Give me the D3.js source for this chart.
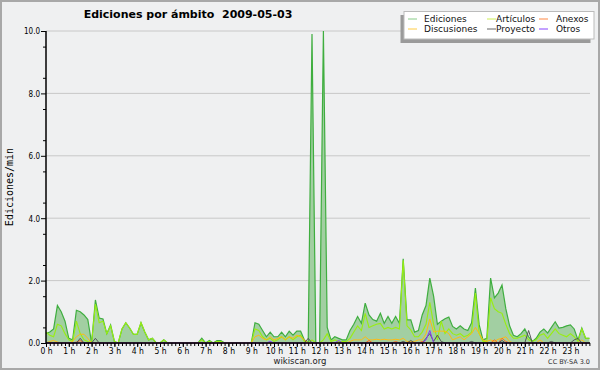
<!DOCTYPE html>
<html><head><meta charset="utf-8">
<script src="https://cdn.jsdelivr.net/npm/d3@7/dist/d3.min.js"></script>
<style>body{margin:0;background:#fff}svg{display:block}text{white-space:pre}</style>
</head><body><svg id="c" width="600" height="370"></svg>
<script>
// 10-minute intervals, index 0..143
const hourLabels = d3.range(24).map(h => h + " h");
const yTicks = [0, 2, 4, 6, 8, 10];
const seriesNames = ["Ediciones","Artículos","Anexos","Discusiones","Proyecto","Otros"];

const ediciones = [
0.3,0.35,0.45,1.2,1.0,0.7,0.15,0.1,1.05,1.0,0.9,0.75,
0,1.38,0.8,0.77,0.3,0.58,0.05,0,0.45,0.65,0.48,0.28,
0.28,0.65,0.35,0.1,0.15,0,0,0.1,0,0,0,0,
0,0,0,0,0,0.15,0,0.08,0,0.08,0.08,0,
0,0,0,0,0,0,0,0.65,0.6,0.4,0.2,0.35,
0.2,0.2,0.35,0.2,0.38,0.25,0.38,0.38,0.1,0,9.9,0,
0,10.0,0.5,0.1,0.2,0.15,0.1,0.1,0.4,0.6,0.85,0.63,
1.28,0.9,0.75,0.7,0.95,0.63,0.85,0.63,0.85,0.63,2.7,0.74,
0.74,0.35,0.4,0.9,1.2,2.08,1.5,0.6,0.7,0.78,0.83,0.53,
0.45,0.55,0.45,0.4,0.65,1.76,0.58,0.1,0.15,2.08,1.45,1.6,
1.86,1.1,0.55,0.25,0.2,0.3,0.45,0.2,0.05,0.15,0.35,0.45,
0.32,0.5,0.68,0.48,0.5,0.55,0.58,0.45,0.1,0.48,0.15,0.15];

const articulos = [
0.35,0.25,0.2,0.6,0.55,0.3,0.1,0.05,0.7,0.3,0.1,0.05,
0,1.25,0.65,0.7,0.3,0.55,0.05,0,0.45,0.65,0.48,0.28,
0.28,0.65,0.35,0.1,0.15,0,0,0.1,0,0,0,0,
0,0,0,0,0,0.1,0,0.05,0,0.05,0.05,0,
0,0,0,0,0,0,0,0.45,0.4,0.2,0.1,0.15,
0.05,0.1,0.2,0.1,0.2,0.1,0.2,0.25,0.05,0,0.1,0,
0,0.1,0.3,0.05,0.1,0.05,0.05,0.05,0.15,0.35,0.55,0.4,
0.95,0.5,0.55,0.6,0.63,0.45,0.5,0.45,0.5,0.45,2.65,0.55,
0.42,0.2,0.2,0.35,0.6,1.3,0.6,0.1,0.7,0.3,0.45,0.3,
0.25,0.3,0.2,0.25,0.35,1.6,0.3,0.05,0.05,1.45,1.1,1.0,
0.95,0.6,0.3,0.15,0.15,0.2,0.25,0.1,0.05,0.1,0.25,0.3,
0.15,0.3,0.45,0.3,0.25,0.2,0.3,0.2,0.05,0.45,0.15,0.15];

const discusiones = [
0,0.05,0.08,0.03,0,0,0,0.05,0.2,0.28,0.28,0.15,
0,0,0,0,0,0,0,0,0,0,0,0,
0,0,0,0,0,0,0,0,0,0,0,0,
0,0,0,0,0,0,0,0,0,0,0,0,
0,0,0,0,0,0,0,0.2,0.25,0.15,0.1,0.2,
0.1,0.15,0.2,0.1,0.2,0.15,0.25,0.2,0.1,0,0,0,
0,0,0,0,0,0,0,0,0.05,0.1,0.1,0.1,
0.2,0.1,0.1,0.12,0.1,0.12,0.1,0.1,0.12,0.1,0.15,0.05,
0.05,0.05,0.1,0.1,0.3,0.77,0.35,0.38,0.38,0.38,0.3,0.1,
0.15,0.2,0.1,0.2,0.3,0.5,0.3,0.1,0.05,0.1,0.05,0.12,
0.15,0.2,0.05,0,0,0,0,0,0,0,0.1,0,
0,0,0,0,0,0,0,0,0,0.1,0,0];

const anexos = new Array(144).fill(0);
[[8,0.03],[9,0.08],[85,0.08],[92,0.05],[99,0.05],[118,0.1],[120,0.15],[121,0.05]].forEach(([i,v]) => anexos[i] = v);

const proyecto = new Array(144).fill(0);
[[9,0.15],[13,0.15],[69,0.15],[94,0.05],[96,0.08],[100,0.15],[101,0.3],[102,0.05],[103,0.25],[104,0.05],[112,0.05],[120,0.08],[127,0.4],[133,0.05],[139,0.1],[140,0.15]].forEach(([i,v]) => proyecto[i] = v);

const otros = new Array(144).fill(0);
[[59,0.05],[77,0.08],[100,0.1],[101,0.4]].forEach(([i,v]) => otros[i] = v);

const colors = {
  Ediciones: "#3fae3f", EdFill: "#9dcc9d",
  "Artículos": "#99ee11", Anexos: "#ff6622", Discusiones: "#ffbb11",
  Proyecto: "#555555", Otros: "#8833ff"
};
const legendColors = ["#88cc88","#ccee55","#ff8844","#ffcc44","#666666","#8844ff"];

const svg = d3.select("#c");
const W = 600, H = 370;
const x0 = 46, x1 = 589.4, yTop = 31, yBot = 343;

svg.append("rect").attr("x",0).attr("y",0).attr("width",W).attr("height",H).attr("fill","#eff0f1");
svg.append("rect").attr("x",1).attr("y",1).attr("width",W-2).attr("height",H-2)
  .attr("fill","none").attr("stroke","#a8a8a8").attr("stroke-width",2);

const x = d3.scaleLinear().domain([0,143]).range([x0,x1]);
const y = d3.scaleLinear().domain([0,10]).range([yBot,yTop]);

// grid
svg.append("g").selectAll("line").data(yTicks.filter(d=>d>0)).join("line")
  .attr("x1",x0).attr("x2",590).attr("y1",d=>y(d)).attr("y2",d=>y(d))
  .attr("stroke","#c8c8c8").attr("stroke-width",1);

const idx = d3.range(144);
const area = d3.area().x(i=>x(i)).y0(y(0)).y1(i=>y(ediciones[i]));
svg.append("path").datum(idx).attr("d",area).attr("fill",colors.EdFill).attr("fill-opacity",0.95);
const lineOf = arr => d3.line().x(i=>x(i)).y(i=>y(arr[i]))(idx);
svg.append("path").attr("d",lineOf(ediciones)).attr("fill","none").attr("stroke",colors.Ediciones).attr("stroke-width",1.2);
svg.append("path").attr("d",lineOf(articulos)).attr("fill","none").attr("stroke",colors["Artículos"]).attr("stroke-width",1.1);
svg.append("path").attr("d",lineOf(discusiones)).attr("fill","none").attr("stroke",colors.Discusiones).attr("stroke-width",1);
svg.append("path").attr("d",lineOf(anexos)).attr("fill","none").attr("stroke",colors.Anexos).attr("stroke-width",1);
svg.append("path").attr("d",lineOf(proyecto)).attr("fill","none").attr("stroke",colors.Proyecto).attr("stroke-width",1);
svg.append("path").attr("d",lineOf(otros)).attr("fill","none").attr("stroke",colors.Otros).attr("stroke-width",1);

// y axis
const yAxis = d3.axisLeft(y).tickValues(yTicks).tickSize(5).tickFormat(d3.format(".1f"));
const gy = svg.append("g").attr("transform",`translate(${x0},0)`).call(yAxis);
gy.select(".domain").attr("stroke","#000").attr("stroke-width",1.5).attr("d",`M0,${yBot}V${yTop}`);
gy.selectAll(".tick line").attr("stroke","#000");
gy.selectAll(".tick text").attr("font-family","DejaVu Sans Condensed").attr("font-size",8).attr("fill","#000").attr("x",-6).attr("dy","0.35em");
const gym = svg.append("g").attr("transform",`translate(${x0},0)`)
  .call(d3.axisLeft(y).tickValues(d3.range(0.5,10,1)).tickSize(3).tickFormat(""));
gym.select(".domain").remove();
gym.selectAll(".tick line").attr("stroke","#000");

// x axis
const gxm = svg.append("g").attr("transform",`translate(0,${yBot})`)
  .call(d3.axisBottom(x).tickValues(idx).tickSize(3).tickFormat(""));
gxm.select(".domain").attr("stroke","#000").attr("stroke-width",1.5).attr("d",`M${x0},0H590`);
gxm.selectAll(".tick line").attr("stroke","#000");
const gx = svg.append("g").attr("transform",`translate(0,${yBot})`)
  .call(d3.axisBottom(x).tickValues(d3.range(0,144,6)).tickSize(4).tickFormat((d,i)=>hourLabels[i]));
gx.select(".domain").remove();
gx.selectAll(".tick line").attr("stroke","#000");
gx.selectAll(".tick text").attr("font-family","DejaVu Sans Condensed").attr("font-size",8.5).attr("fill","#000").attr("y",5);

// title
svg.append("text").attr("x",188).attr("y",18).attr("text-anchor","middle")
  .attr("font-family","DejaVu Sans").attr("font-weight","bold").attr("font-size",11).attr("fill","#000")
  .text("Ediciones por ámbito  2009-05-03");

// y label
svg.append("text").attr("transform",`translate(13,187) rotate(-90)`).attr("text-anchor","middle")
  .attr("font-family","DejaVu Sans Mono").attr("font-size",10).attr("fill","#000").text("Ediciones/min");

// footer
svg.append("text").attr("x",300).attr("y",364).attr("text-anchor","middle")
  .attr("font-family","DejaVu Sans").attr("font-size",8.5).attr("fill","#222").text("wikiscan.org");
svg.append("text").attr("x",590).attr("y",364).attr("text-anchor","end")
  .attr("font-family","DejaVu Sans").attr("font-size",6.5).attr("fill","#333").text("CC BY-SA 3.0");

// legend
svg.append("rect").attr("x",400.5).attr("y",15).attr("width",190).attr("height",28).attr("fill","#9a9a9a");
svg.append("rect").attr("x",404).attr("y",11.5).attr("width",190).attr("height",27.5).attr("fill","#fff").attr("stroke","#bbb");
const pos = [[408,19,424],[487,19,496],[539,19,556],[408,29,424],[487,29,496],[539,29,556]];
const lg = svg.append("g");
seriesNames.forEach((n,i)=>{
  const [sx,sy,tx] = pos[i];
  lg.append("line").attr("x1",sx).attr("x2",sx+9).attr("y1",sy).attr("y2",sy).attr("stroke",legendColors[i]).attr("stroke-width",1);
  lg.append("text").attr("x",tx).attr("y",sy+3.3).attr("font-family","DejaVu Sans").attr("font-size",9).attr("fill","#111").text(n);
});
</script></body></html>
